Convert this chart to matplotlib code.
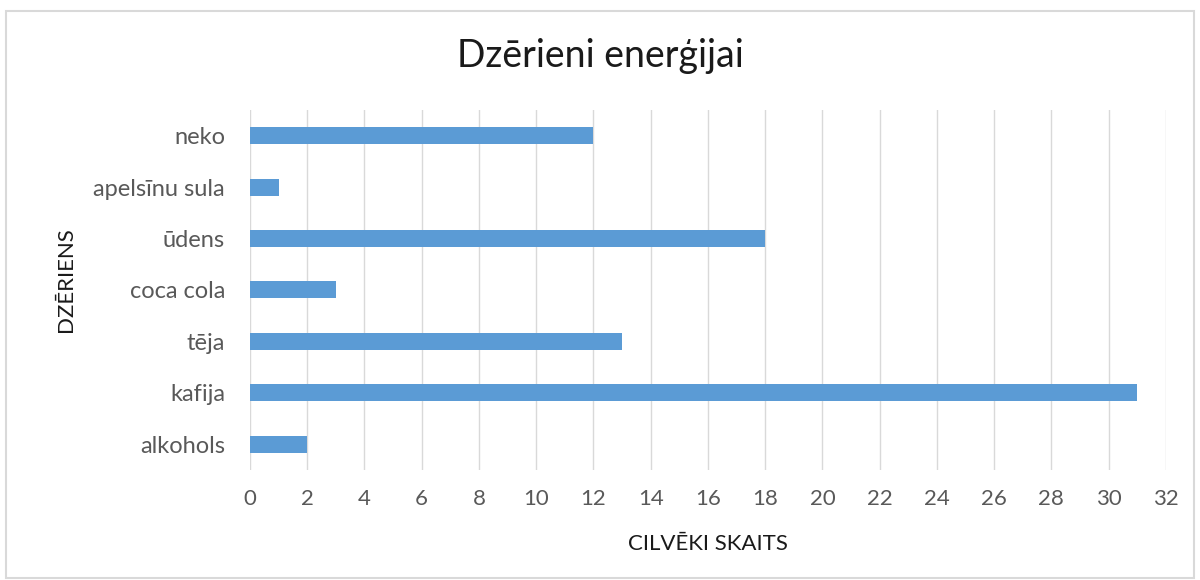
import matplotlib

matplotlib.use("Agg")

import matplotlib.pyplot as plt
from matplotlib.patches import Rectangle

plt.rcParams["font.family"] = ["Lato", "DejaVu Sans"]

# Dati (no augšas uz leju kā attēlā)
drinks = ["neko", "apelsīnu sula", "ūdens", "coca cola", "tēja", "kafija", "alkohols"]
people = [12, 1, 18, 3, 13, 31, 2]
x_ticks = list(range(0, 33, 2))

fig = plt.figure(figsize=(12, 5.8), dpi=100)
ax = fig.add_axes([0.2083, 0.1897, 0.7633, 0.6207])

positions = list(range(len(drinks)))[::-1]
ax.barh(positions, people, height=0.33, color="#5B9BD5", zorder=3)

ax.set_xlim(0, 32)
ax.set_ylim(-0.5, len(drinks) - 0.5)
ax.set_xticks(x_ticks)
ax.set_xticklabels([str(t) for t in x_ticks], fontsize=16, color="#595959")
ax.set_yticks(positions)
ax.set_yticklabels(drinks, fontsize=17, color="#595959")
ax.tick_params(axis="both", length=0)
ax.tick_params(axis="x", pad=14)
ax.tick_params(axis="y", pad=18)
ax.grid(True, axis="x", color="#d9d9d9", linewidth=1, zorder=0)
for spine in ax.spines.values():
    spine.set_visible(False)

ax.set_xlabel("CILVĒKI SKAITS", fontsize=16, color="#1a1a1a", labelpad=18)
ax.set_ylabel("DZĒRIENS", fontsize=16, color="#1a1a1a")
ax.yaxis.set_label_coords(-0.19, 0.53)

fig.text(0.5, 0.903, "Dzērieni enerģijai", ha="center", va="center", fontsize=27, color="#1a1a1a")

# Rāmis ap diagrammu
fig.patches.append(
    Rectangle((0.005, 0.003), 0.99, 0.978, transform=fig.transFigure, fill=False,
              edgecolor="#d9d9d9", linewidth=1.5)
)

fig.savefig("out.png", dpi=100)
plt.close(fig)
